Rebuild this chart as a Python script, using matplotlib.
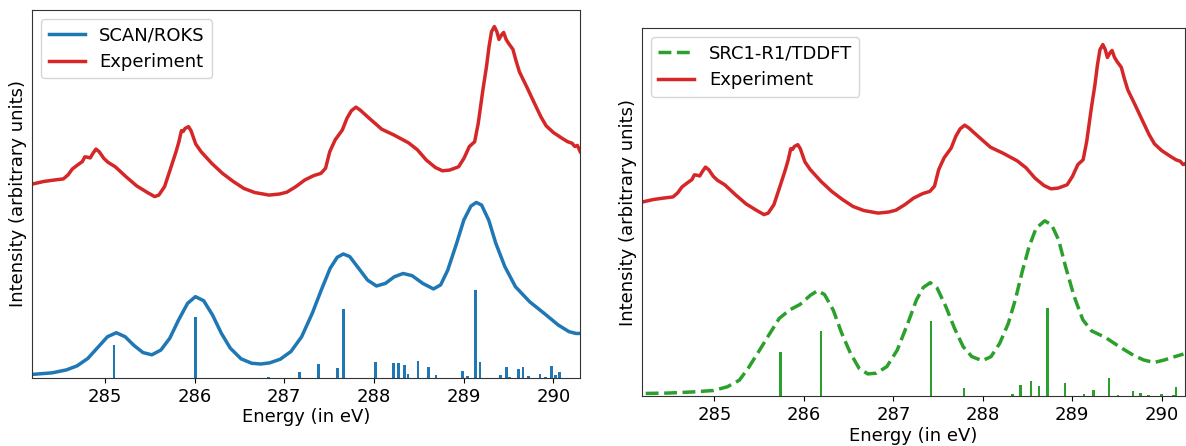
import matplotlib
matplotlib.use("Agg")
import matplotlib.pyplot as plt

# experiment (same trace in both panels, sits above the theory curves)
exp_e = [284.190, 284.318, 284.437, 284.537, 284.589, 284.637, 284.696, 284.748,
         284.776, 284.804, 284.836, 284.868, 284.900, 284.936, 284.987, 285.035,
         285.115, 285.235, 285.354, 285.474, 285.554, 285.601, 285.665, 285.733,
         285.793, 285.825, 285.853, 285.873, 285.893, 285.932, 285.960, 286.012,
         286.072, 286.192, 286.311, 286.431, 286.550, 286.670, 286.830, 286.949,
         287.029, 287.129, 287.228, 287.328, 287.408, 287.460, 287.507, 287.567,
         287.647, 287.699, 287.747, 287.798, 287.846, 287.946, 288.086, 288.225,
         288.385, 288.484, 288.584, 288.684, 288.763, 288.843, 288.943, 289.003,
         289.063, 289.122, 289.162, 289.214, 289.254, 289.282, 289.310, 289.342,
         289.370, 289.393, 289.421, 289.445, 289.473, 289.501, 289.549, 289.581,
         289.621, 289.701, 289.780, 289.860, 289.920, 290.000, 290.099, 290.159,
         290.207, 290.239, 290.267, 290.299]
exp_i = [0.527, 0.534, 0.538, 0.541, 0.552, 0.568, 0.579, 0.588,
         0.601, 0.600, 0.598, 0.611, 0.622, 0.615, 0.597, 0.586,
         0.574, 0.547, 0.522, 0.504, 0.493, 0.497, 0.520, 0.570,
         0.615, 0.642, 0.672, 0.670, 0.678, 0.683, 0.672, 0.636,
         0.615, 0.583, 0.556, 0.534, 0.515, 0.504, 0.497, 0.500,
         0.505, 0.520, 0.538, 0.550, 0.556, 0.570, 0.615, 0.647,
         0.674, 0.706, 0.726, 0.736, 0.728, 0.706, 0.676, 0.660,
         0.639, 0.620, 0.592, 0.572, 0.563, 0.565, 0.574, 0.597,
         0.629, 0.642, 0.692, 0.783, 0.846, 0.900, 0.941, 0.955,
         0.941, 0.920, 0.932, 0.939, 0.920, 0.909, 0.893, 0.864,
         0.832, 0.792, 0.751, 0.710, 0.685, 0.667, 0.651, 0.642,
         0.638, 0.629, 0.632, 0.615]

# SCAN/ROKS broadened spectrum
roks_e = [284.205, 284.412, 284.571, 284.690, 284.809, 284.928, 285.028, 285.127,
          285.226, 285.326, 285.425, 285.524, 285.624, 285.723, 285.822, 285.922,
          286.009, 286.101, 286.200, 286.299, 286.398, 286.518, 286.637, 286.736,
          286.836, 286.955, 287.074, 287.193, 287.312, 287.412, 287.511, 287.590,
          287.658, 287.729, 287.829, 287.928, 288.027, 288.127, 288.226, 288.325,
          288.425, 288.544, 288.663, 288.743, 288.822, 288.921, 289.001, 289.080,
          289.140, 289.199, 289.279, 289.358, 289.458, 289.577, 289.736, 289.895,
          290.054, 290.173, 290.252, 290.312]
roks_i = [0.010, 0.014, 0.022, 0.033, 0.053, 0.085, 0.112, 0.123,
          0.112, 0.088, 0.069, 0.063, 0.076, 0.108, 0.158, 0.203,
          0.221, 0.210, 0.171, 0.121, 0.081, 0.052, 0.040, 0.038,
          0.041, 0.051, 0.072, 0.112, 0.176, 0.239, 0.298, 0.328,
          0.337, 0.330, 0.298, 0.266, 0.250, 0.257, 0.275, 0.284,
          0.278, 0.257, 0.242, 0.253, 0.293, 0.366, 0.429, 0.467,
          0.477, 0.470, 0.429, 0.366, 0.303, 0.248, 0.207, 0.176,
          0.144, 0.126, 0.121, 0.121]

# SCAN/ROKS sticks
roks_stick_e = [285.10, 286.01, 286.82, 287.17, 287.38, 287.59, 287.66, 288.02,
                288.22, 288.27, 288.34, 288.38, 288.49, 288.61, 288.69, 288.99,
                289.04, 289.13, 289.18, 289.41, 289.48, 289.51, 289.61, 289.66,
                289.72, 289.85, 289.91, 289.98, 290.02, 290.07]
roks_stick_i = [0.090, 0.167, 0.003, 0.015, 0.039, 0.027, 0.188, 0.043,
                0.041, 0.041, 0.036, 0.011, 0.046, 0.029, 0.008, 0.019,
                0.006, 0.239, 0.043, 0.008, 0.029, 0.003, 0.024, 0.029,
                0.006, 0.011, 0.003, 0.032, 0.008, 0.015]

# SRC1-R1/TDDFT broadened spectrum
tddft_e = [284.232, 284.484, 284.756, 284.988, 285.144, 285.279, 285.376, 285.493,
           285.609, 285.725, 285.842, 285.958, 286.074, 286.152, 286.230, 286.327,
           286.424, 286.521, 286.618, 286.715, 286.811, 286.928, 287.044, 287.161,
           287.258, 287.335, 287.413, 287.490, 287.587, 287.684, 287.781, 287.878,
           287.995, 288.092, 288.189, 288.285, 288.363, 288.441, 288.518, 288.596,
           288.693, 288.770, 288.848, 288.926, 289.022, 289.119, 289.216, 289.372,
           289.527, 289.682, 289.798, 289.915, 290.031, 290.147, 290.244]
tddft_i = [0.007, 0.008, 0.011, 0.015, 0.025, 0.043, 0.075, 0.120,
           0.166, 0.211, 0.234, 0.249, 0.274, 0.286, 0.276, 0.234,
           0.170, 0.116, 0.075, 0.060, 0.062, 0.080, 0.125, 0.197,
           0.261, 0.295, 0.308, 0.293, 0.243, 0.184, 0.134, 0.107,
           0.096, 0.107, 0.143, 0.197, 0.261, 0.338, 0.406, 0.456,
           0.476, 0.465, 0.424, 0.351, 0.270, 0.207, 0.177, 0.159,
           0.134, 0.111, 0.098, 0.091, 0.098, 0.107, 0.114]

# SRC1-R1/TDDFT sticks
tddft_stick_e = [285.74, 286.19, 287.42, 287.79, 288.33, 288.42, 288.54, 288.63,
                 288.72, 288.92, 289.13, 289.24, 289.41, 289.51, 289.68, 289.76,
                 289.85, 290.00, 290.13, 290.16]
tddft_stick_i = [0.120, 0.177, 0.204, 0.022, 0.005, 0.029, 0.040, 0.028,
                 0.239, 0.035, 0.005, 0.016, 0.049, 0.003, 0.013, 0.007,
                 0.002, 0.005, 0.002, 0.024]

ticks = [285, 286, 287, 288, 289, 290]

plt.rcParams["font.size"] = 13
plt.rcParams["axes.edgecolor"] = "#333333"

fig = plt.figure(figsize=(11.86, 4.46), dpi=100)
ax1 = fig.add_axes([0.0272, 0.1525, 0.4621, 0.8251])
ax2 = fig.add_axes([0.5413, 0.1121, 0.4578, 0.8251])

# left panel
ax1.bar(roks_stick_e, roks_stick_i, width=0.03, color="#1f77b4")
ax1.plot(roks_e, roks_i, color="#1f77b4", lw=2.5, label="SCAN/ROKS")
ax1.plot(exp_e, exp_i, color="#d62728", lw=2.5, label="Experiment")
ax1.set_xlim(284.19, 290.30)
ax1.set_ylim(0, 1)

# right panel
ax2.bar(tddft_stick_e, tddft_stick_i, width=0.03, color="#2ca02c")
ax2.plot(tddft_e, tddft_i, color="#2ca02c", lw=2.5, ls="--", label="SRC1-R1/TDDFT")
ax2.plot(exp_e, exp_i, color="#d62728", lw=2.5, label="Experiment")
ax2.set_xlim(284.19, 290.26)
ax2.set_ylim(0, 1)

for ax, lx in ((ax1, -0.0097), (ax2, -0.0092)):
    ax.set_xticks(ticks)
    ax.set_yticks([])
    ax.set_xlabel("Energy (in eV)", labelpad=2)
    ax.set_ylabel("Intensity (arbitrary units)")
    ax.yaxis.set_label_coords(lx, 0.5)
    ax.legend(loc="upper left")

fig.savefig("out.png", dpi=100)
